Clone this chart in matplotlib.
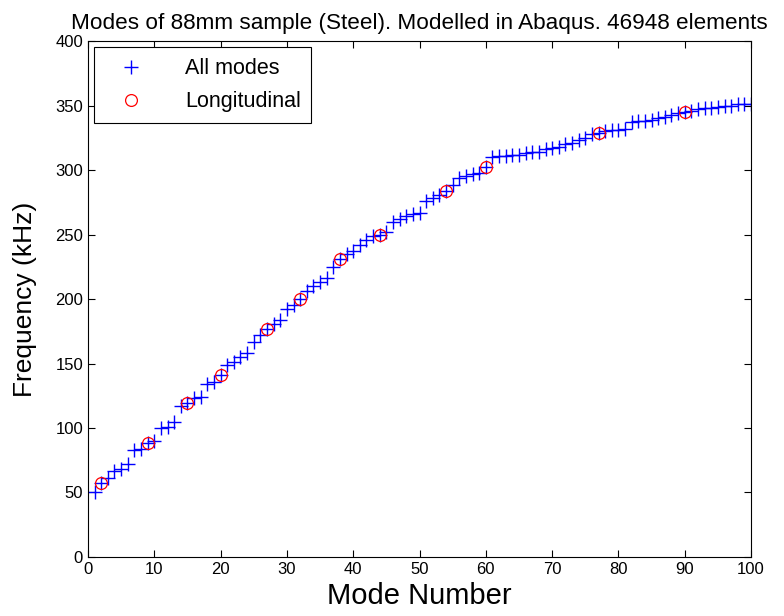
import numpy as np
import matplotlib
matplotlib.use("Agg")
import matplotlib.pyplot as plt

plt.rcParams['font.family'] = ['Liberation Sans', 'DejaVu Sans']

# frequencies (kHz) of modes 1..100
all_modes = [50, 57, 61, 67, 68, 72, 83, 84, 88, 90,
             100, 101, 105, 117, 119, 123, 124, 134, 136, 141,
             149, 151, 155, 158, 167, 172, 177, 181, 184, 192,
             195, 200, 206, 210, 213, 216, 225, 231, 235, 237,
             242, 246, 249, 250, 252, 260, 262, 264, 266, 267,
             276, 278, 281, 284, 288, 294, 295, 297, 298, 302,
             310, 311, 311, 312, 312, 313, 314, 314, 316, 317,
             318, 320, 321, 323, 325, 328, 329, 330, 331, 331,
             332, 337, 338, 338, 339, 340, 341, 343, 344, 345,
             346, 347, 348, 348, 349, 350, 350, 351, 351, 351]
mode_no = np.arange(1, len(all_modes) + 1)

# longitudinal modes
long_no = [2, 9, 15, 20, 27, 32, 38, 44, 54, 60, 77, 90]
long_freq = [57, 88, 119, 141, 177, 200, 231, 250, 284, 302, 329, 345]

fig = plt.figure(figsize=(7.84, 6.16), dpi=100)
ax = fig.add_axes([0.1122, 0.0958, 0.8458, 0.8376])

ax.plot(mode_no, all_modes, '+', color='blue', markersize=10, markeredgewidth=1.0,
        label='All modes')
ax.plot(long_no, long_freq, 'o', markerfacecolor='none', markeredgecolor='red',
        markersize=8.5, markeredgewidth=0.9, label='Longitudinal')

ax.set_xlim(0, 100)
ax.set_ylim(0, 400)
ax.set_xticks(np.arange(0, 101, 10))
ax.set_yticks(np.arange(0, 401, 50))
ax.tick_params(direction='in', top=True, right=True, labelsize=12, length=5)
for s in ax.spines.values():
    s.set_linewidth(0.8)

ax.set_xlabel('Mode Number', fontsize=21, labelpad=4)
ax.set_ylabel('Frequency (kHz)', fontsize=19, labelpad=13)
ax.set_title('Modes of 88mm sample (Steel). Modelled in Abaqus. 46948 elements',
             fontsize=16.2, pad=9)

leg = ax.legend(loc='upper left', fontsize=15.5, fancybox=False, framealpha=1,
                edgecolor='black', borderaxespad=0.3, handletextpad=1.3,
                handlelength=2.4, borderpad=0.5, labelspacing=0.55)
leg.get_frame().set_linewidth(0.8)

fig.savefig('out.png', dpi=100)
